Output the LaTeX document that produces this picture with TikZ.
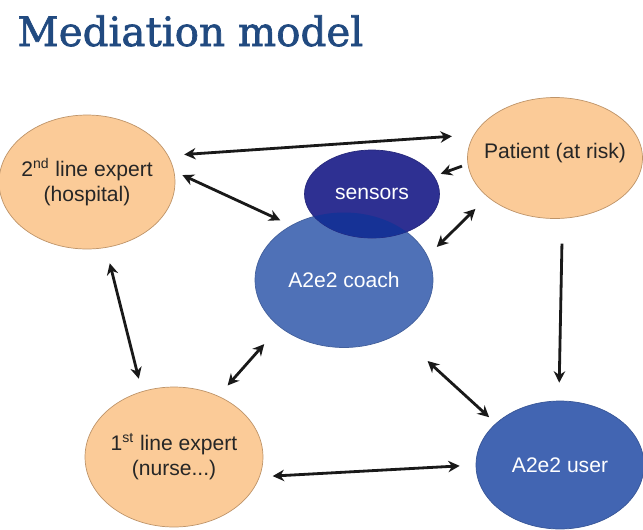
\documentclass[tikz,border=0pt]{standalone}
\usepackage{fontspec}
\setmainfont{Liberation Sans}
\newfontfamily\titlefont[FakeBold=1.6]{DejaVu Serif}
\usetikzlibrary{shapes.geometric,arrows.meta}
\definecolor{peach}{RGB}{251,203,152}
\definecolor{peachline}{RGB}{190,148,105}
\definecolor{coachblue}{RGB}{79,113,183}
\definecolor{userblue}{RGB}{66,101,178}
\definecolor{sensorblue}{RGB}{46,48,146}
\definecolor{overlapblue}{RGB}{22,50,150}
\definecolor{titleblue}{RGB}{33,74,128}

\begin{document}
\begin{tikzpicture}[x=0.02cm,y=-0.02cm,>={Stealth[length=6.5pt,width=6.5pt]}]
 	\tikzstyle{txt}=[font=\fontsize{12}{14.5}\selectfont,align=center,inner sep=0pt]
 	\tikzstyle{actor}=[ellipse,draw=peachline,fill=peach,inner sep=0pt]
 	\tikzstyle{agent}=[ellipse,draw=#1!85!black,fill=#1,inner sep=0pt]
 	\tikzstyle{link}=[line width=1.6pt,black!90]
 	\useasboundingbox (0,0) rectangle (643,529);
 	\node[anchor=base west,inner sep=0pt,text=titleblue,font=\titlefont\fontsize{23}{26}\selectfont] (title) at (17,46) {Mediation model};
 	\node[actor,minimum width=3.52cm,minimum height=2.68cm,label={[txt,text=black!85]center:2\textsuperscript{nd} line expert\\(hospital)}] (exp2) at (87,182) {};
 	\node[actor,minimum width=3.5cm,minimum height=2.42cm,label={[txt,text=black!85,yshift=3pt]center:Patient (at risk)}] (patient) at (555,158) {};
 	\node[actor,minimum width=3.56cm,minimum height=2.8cm,label={[txt,text=black!85]center:1\textsuperscript{st} line expert\\(nurse...)}] (exp1) at (174,457) {};
 	\node[agent=coachblue,minimum width=3.56cm,minimum height=2.7cm,label={[txt,text=white]center:A2e2 coach}] (coach) at (344,280) {};
 	\node[agent=sensorblue,minimum width=2.7cm,minimum height=1.76cm,label={[txt,text=white]center:sensors}] (sensors) at (372,194) {};
 	\begin{scope}
 	\clip (coach.center) ellipse [x radius=1.78cm,y radius=1.35cm];
 	\fill[overlapblue] (sensors.center) ellipse [x radius=1.35cm,y radius=0.88cm];
 	\end{scope}
 	\node[agent=userblue,minimum width=3.36cm,minimum height=2.56cm,label={[txt,text=white]center:A2e2 user}] (user) at (560,465) {};
 	\draw[link,<->,shorten <=0.32cm,shorten >=0.44cm] (exp2.18) -- (patient.164);
 	\draw[link,<->,shorten <=0.18cm,shorten >=0.24cm] (exp2.7) -- (coach.134);
 	\draw[link,->,shorten <=0.12cm,shorten >=0.14cm] (patient.184) -- (sensors.16);
 	\draw[link,<->,shorten <=0.34cm,shorten >=0.26cm] (patient.210) -- (coach.16);
 	\draw[link,->,shorten <=0.5cm,shorten >=0.36cm] (patient.277) -- (user.91);
 	\draw[link,<->,shorten <=0.32cm,shorten >=0.26cm] (exp2.286) -- (exp1.116);
 	\draw[link,<->,shorten <=0.46cm,shorten >=0.28cm] (coach.216) -- (exp1.54);
 	\draw[link,<->,shorten <=0.8cm,shorten >=0.18cm] (coach.315) -- (user.147);
 	\draw[link,<->,shorten <=0.26cm,shorten >=0.32cm] (exp1.347) -- (user.180);
\end{tikzpicture}
\end{document}
